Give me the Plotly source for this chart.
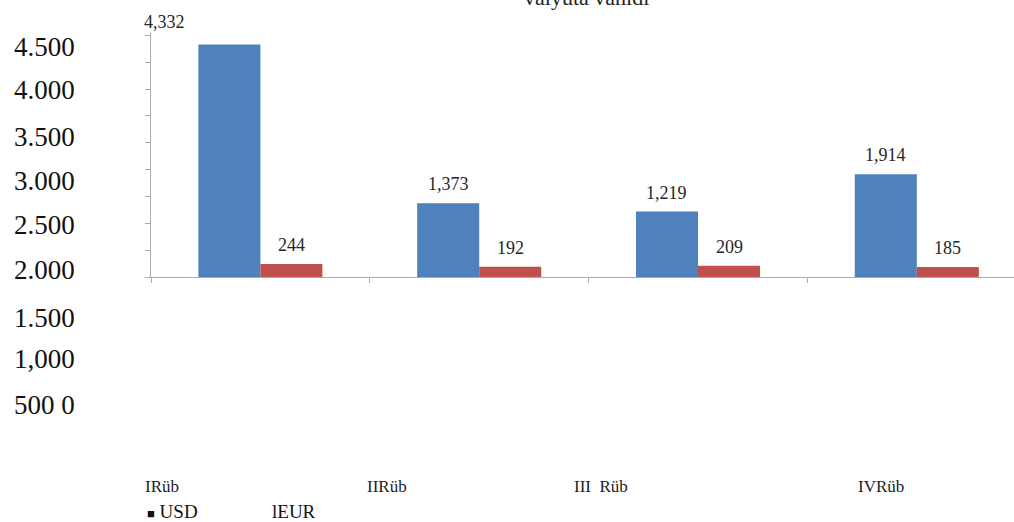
import plotly.graph_objects as go

# ---- data ----
categories = ["IRüb", "IIRüb", "III\u00a0\u00a0Rüb", "IVRüb"]
usd = [4332, 1373, 1219, 1914]
eur = [244, 192, 209, 185]
series_names = ["USD", "EUR"]
title_text = "valyuta vahidi"
stray_tick_labels = ["4.500", "4.000", "3.500", "3.000", "2.500", "2.000", "1.500", "1,000", "500 0"]
legend_texts = ["<span style='font-size:13px'>■</span> USD", "lEUR"]

# ---- layout geometry (pixels) ----
W, H = 1014, 522
L, R, T, B = 151, 0, 33, 245
PW, PH = W - L - R, H - T - B
YMAX = 4545
BARGAP = 0.433
CAT_PX = 218.8  # pixel width of one category slot
X_END = -0.5 + PW / CAT_PX


def px_x(px):
    return (px - L) / PW


def px_y(py):
    return (H - B - py) / PH


SERIF = "Liberation Serif"
BLUE = "#4F81BD"
RED = "#C0504D"
AX = "#ababab"

fig = go.Figure()
fig.add_trace(go.Bar(x=categories, y=usd, name=series_names[0], marker=dict(color=BLUE, line=dict(width=0))))
fig.add_trace(go.Bar(x=categories, y=eur, name=series_names[1], marker=dict(color=RED, line=dict(width=0))))

bar_off = (1 - BARGAP) / 4 * CAT_PX

ann = []
# data labels
for i, c in enumerate(categories):
    xs_u, ys_u = -bar_off, 19
    if i == 0:
        xs_u, ys_u = -96, 22
    ann.append(dict(x=c, y=usd[i], xref="x", yref="y", text=f"{usd[i]:,}", showarrow=False,
                    xshift=xs_u, yshift=ys_u, yanchor="middle", xanchor="center",
                    font=dict(family=SERIF, size=18, color="#262626")))
    ann.append(dict(x=c, y=eur[i], xref="x", yref="y", text=f"{eur[i]:,}", showarrow=False,
                    xshift=bar_off, yshift=19, yanchor="middle", xanchor="center",
                    font=dict(family=SERIF, size=18, color="#262626")))

# stray tick labels at left
stray_py = [47, 90, 137, 181, 225, 270, 318, 359, 405]
for t, py in zip(stray_tick_labels, stray_py):
    ann.append(dict(x=px_x(12), y=px_y(py), xref="paper", yref="paper", text=t, showarrow=False,
                    xanchor="left", yanchor="middle", font=dict(family=SERIF, size=27, color="#111111")))

# category labels
cat_px_left = [143, 365, 572, 856]
for t, px in zip(categories, cat_px_left):
    ann.append(dict(x=px_x(px), y=px_y(486), xref="paper", yref="paper", text=t, showarrow=False,
                    xanchor="left", yanchor="middle", font=dict(family=SERIF, size=17, color="#222222")))

# legend texts
leg_px = [145, 270]
for t, px in zip(legend_texts, leg_px):
    ann.append(dict(x=px_x(px), y=px_y(511), xref="paper", yref="paper", text=t, showarrow=False,
                    xanchor="left", yanchor="middle", font=dict(family=SERIF, size=19, color="#111111")))

# cut-off title (partly outside the top edge, as in the reference)
ann.append(dict(x=px_x(586), y=px_y(12), xref="paper", yref="paper", text=title_text, showarrow=False,
                xanchor="center", yanchor="bottom", font=dict(family=SERIF, size=22, color="#222222")))

fig.update_layout(
    width=W, height=H,
    margin=dict(l=L, r=R, t=T, b=B, pad=0),
    paper_bgcolor="white", plot_bgcolor="white",
    barmode="group", bargap=BARGAP, bargroupgap=0,
    showlegend=False,
    annotations=ann,
    xaxis=dict(type="category", range=[-0.5, X_END], showline=True, linecolor=AX, linewidth=1,
               ticks="outside", tickson="boundaries", ticklen=5, tickcolor=AX, showticklabels=False,
               showgrid=False, zeroline=False, fixedrange=True),
    yaxis=dict(range=[0, YMAX], showline=True, linecolor=AX, linewidth=1, ticks="outside",
               ticklen=5, tickcolor=AX, dtick=500, tick0=0, showticklabels=False,
               showgrid=False, zeroline=False, fixedrange=True),
)

fig.write_html("out.html")
